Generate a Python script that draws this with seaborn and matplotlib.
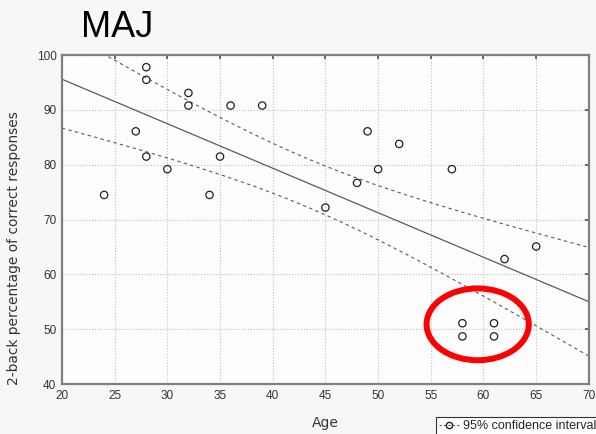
import numpy as np
import pandas as pd
import seaborn as sns
import matplotlib
matplotlib.use("Agg")
import matplotlib.pyplot as plt
from matplotlib.patches import Ellipse
from matplotlib.lines import Line2D

# ---- data ----
age = [24, 27, 28, 28, 28, 30, 32, 32, 34, 35, 36, 39,
       45, 48, 49, 50, 52, 57, 58, 58, 61, 61, 62, 65]
score = [74.5, 86.1, 97.8, 95.5, 81.5, 79.2, 93.1, 90.8, 74.5, 81.5, 90.8, 90.8,
         72.2, 76.7, 86.1, 79.2, 83.8, 79.2, 51.1, 48.7, 51.1, 48.7, 62.8, 65.1]
x_ticks = [20, 25, 30, 35, 40, 45, 50, 55, 60, 65, 70]
y_ticks = [40, 50, 60, 70, 80, 90, 100]
title_text = "MAJ"
x_label = "Age"
y_label = "2-back percentage of correct responses"
legend_label = "95% confidence interval"
t_crit = 2.074  # t(0.975, df=22)

sns.set_theme(style="white")
plt.rcParams["font.family"] = ["Liberation Sans", "DejaVu Sans"]

df = pd.DataFrame({"Age": age, "score": score})

fig = plt.figure(figsize=(5.96, 4.34), dpi=100, facecolor="#f7f7f7")
ax = fig.add_axes([0.104, 0.115, 0.884, 0.758])
ax.set_facecolor("#fdfdfd")

# regression line and 95% confidence band (mean response)
x = np.asarray(age, float)
y = np.asarray(score, float)
n = len(x)
slope, intercept = np.polyfit(x, y, 1)
resid = y - (slope * x + intercept)
s = np.sqrt(np.sum(resid ** 2) / (n - 2))
sxx = np.sum((x - x.mean()) ** 2)
xs = np.linspace(x_ticks[0], x_ticks[-1], 300)
fit = slope * xs + intercept
half = t_crit * s * np.sqrt(1.0 / n + (xs - x.mean()) ** 2 / sxx)
line_df = pd.DataFrame({"Age": xs, "fit": fit, "lo": fit - half, "hi": fit + half})

sns.lineplot(data=line_df, x="Age", y="fit", ax=ax, color="#5a5a5a", linewidth=0.9)
sns.lineplot(data=line_df, x="Age", y="hi", ax=ax, color="#5a5a5a", linewidth=0.8,
             linestyle=(0, (3, 3)))
sns.lineplot(data=line_df, x="Age", y="lo", ax=ax, color="#5a5a5a", linewidth=0.8,
             linestyle=(0, (3, 3)))

sns.scatterplot(data=df, x="Age", y="score", ax=ax, marker="o", s=28,
                facecolor="none", edgecolor="#222222", linewidth=0.9, zorder=5)

# red highlight ellipse
ax.add_patch(Ellipse((59.45, 50.9), 9.7, 13.1, fill=False, edgecolor="#ff0000",
                     linewidth=4.3, zorder=6))

ax.set_xlim(x_ticks[0], x_ticks[-1])
ax.set_ylim(y_ticks[0], y_ticks[-1])
ax.set_xticks(x_ticks)
ax.set_yticks(y_ticks)
ax.grid(True, linestyle=":", color="#bdbdbd", linewidth=0.8)
ax.tick_params(direction="in", length=3, top=True, right=True, color="#555555",
               labelsize=8.5, labelcolor="#333333", pad=4)
for sp in ax.spines.values():
    sp.set_color("#808080")
    sp.set_linewidth(1.6)

ax.set_xlabel(x_label, fontsize=10, color="#333333", family="DejaVu Sans")
ax.set_ylabel(y_label, fontsize=9.9, color="#333333", family="DejaVu Sans")
ax.xaxis.set_label_coords(0.499, -0.096)
ax.yaxis.set_label_coords(-0.078, 0.415)

fig.text(81 / 596, 1 - 37 / 434, title_text, fontsize=26, color="black",
         ha="left", va="baseline")

handle = Line2D([0], [0], color="#555555", linestyle=(0, (2, 2)), linewidth=0.8,
                marker="o", markersize=4.5, markerfacecolor="none",
                markeredgecolor="#222222")
leg = fig.legend([handle], [legend_label], loc="upper left",
                 bbox_to_anchor=(436 / 596, 1 - 417 / 434), fontsize=9,
                 frameon=True, fancybox=False, borderpad=0.25, handlelength=1.6,
                 handletextpad=0.3, borderaxespad=0)
leg.get_frame().set_edgecolor("black")
leg.get_frame().set_linewidth(0.8)
leg.get_frame().set_facecolor("white")

fig.savefig("out.png", dpi=100, facecolor=fig.get_facecolor())
